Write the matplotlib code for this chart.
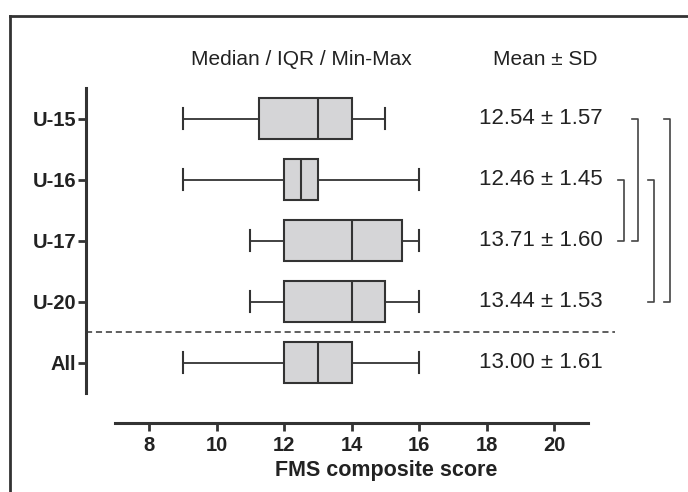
import matplotlib
matplotlib.use("Agg")
import matplotlib.pyplot as plt
from matplotlib.lines import Line2D

plt.rcParams['font.family'] = ['Liberation Sans', 'DejaVu Sans']

# groups and box stats (min, q1, median, q3, max)
groups = ['U-15', 'U-16', 'U-17', 'U-20', 'All']
mins = [9, 9, 11, 11, 9]
q1s = [11.25, 12, 12, 12, 12]
medians = [13, 12.5, 14, 14, 13]
q3s = [14, 13, 15.5, 15, 14]
maxs = [15, 16, 16, 16, 16]
means = [12.54, 12.46, 13.71, 13.44, 13.00]
sds = [1.57, 1.45, 1.60, 1.53, 1.61]

# significance brackets between groups (index pairs)
brackets = [(0, 2), (1, 2), (1, 3), (0, 3)]
bracket_x = [22.48, 22.07, 22.96, 23.43]

ink = '#333333'
fill = '#d5d5d7'

fig = plt.figure(figsize=(6.88, 4.92), dpi=100)
ax = fig.add_axes([0.125, 0.2012, 0.8715, 0.6199])

stats = []
for i in range(len(groups)):
    stats.append({'label': groups[i], 'whislo': mins[i], 'q1': q1s[i], 'med': medians[i],
                  'q3': q3s[i], 'whishi': maxs[i], 'fliers': []})

positions = list(range(1, len(groups) + 1))
ax.bxp(stats, positions=positions, widths=0.66, capwidths=0.35, orientation='horizontal',
       patch_artist=True, showfliers=False,
       boxprops=dict(facecolor=fill, edgecolor=ink, linewidth=1.5),
       medianprops=dict(color=ink, linewidth=1.5),
       whiskerprops=dict(color=ink, linewidth=1.3),
       capprops=dict(color=ink, linewidth=1.5))

ax.set_xlim(6.13, 23.9)
ax.set_ylim(5.5, 0.5)

# dashed separator before "All"
ax.plot([6.13, 21.8], [4.5, 4.5], color=ink, lw=1.1, ls=(0, (4, 2.5)), clip_on=False)

# mean +- sd text
for i in range(len(groups)):
    ax.text(19.6, positions[i], '%.2f ± %.2f' % (means[i], sds[i]), ha='center', va='center',
            fontsize=16, color='#222222')

ax.text(12.5, 0.04, 'Median / IQR / Min-Max', ha='center', va='center', fontsize=15,
        color='#222222')
ax.text(19.75, 0.04, 'Mean ± SD', ha='center', va='center', fontsize=15, color='#222222')

# brackets
for (a, b), bx in zip(brackets, bracket_x):
    ya = positions[a]
    yb = positions[b]
    ax.plot([bx - 0.17, bx, bx, bx - 0.17], [ya, ya, yb, yb], color='#444444', lw=1.2,
            clip_on=False)

# axes styling (offset spines)
for s in ['top', 'right']:
    ax.spines[s].set_visible(False)
ax.spines['left'].set_linewidth(2.2)
ax.spines['left'].set_color(ink)
ax.spines['bottom'].set_linewidth(2.2)
ax.spines['bottom'].set_color(ink)
ax.spines['bottom'].set_position(('outward', 21.6))
ax.spines['bottom'].set_bounds(7, 21)

ax.set_xticks([8, 10, 12, 14, 16, 18, 20])
ax.set_yticks(positions)
ax.set_yticklabels(groups)
ax.tick_params(axis='both', width=2, length=6, color=ink, labelsize=14.5, labelcolor='#222222')
ax.tick_params(axis='y', pad=1)
ax.tick_params(axis='x', pad=3)
for lab in ax.get_xticklabels() + ax.get_yticklabels():
    lab.set_fontweight('bold')

ax.set_xlabel('FMS composite score', fontsize=15.5, fontweight='bold', color='#222222',
              labelpad=4)

# outer frame (left and top)
fig.add_artist(Line2D([10 / 688, 10 / 688], [0, 1 - 16 / 492], color=ink, lw=2,
                      transform=fig.transFigure))
fig.add_artist(Line2D([10 / 688, 1], [1 - 16 / 492, 1 - 16 / 492], color=ink, lw=2,
                      transform=fig.transFigure))

fig.savefig('out.png', dpi=100)
